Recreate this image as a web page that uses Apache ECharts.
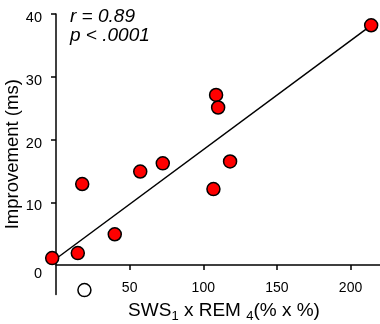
<!DOCTYPE html>
<html>
<head>
<meta charset="utf-8">
<script src="https://cdn.jsdelivr.net/npm/echarts@6/dist/echarts.min.js"></script>
<style>html,body{margin:0;padding:0;background:#fff}#c{width:380px;height:324px}</style>
</head>
<body>
<div id="c"></div>
<script>
// Data
var redPoints = [
  [-2.6, 1.1], [14.8, 1.9], [17.8, 12.9], [39.9, 4.9], [57.2, 14.9],
  [72.5, 16.2], [118.2, 16.5], [106.9, 12.1], [108.7, 27.1], [110.1, 25.1],
  [214, 38.2]
];
var openPoints = [[19.3, -4.0]];
var fitLine = [[0, 1.0], [214, 38.2]];
var xTicks = [50, 100, 150, 200];
var yTicks = [10, 20, 30, 40];
var yLabels = [0, 10, 20, 30, 40];

var FONT = 'Liberation Sans, Arial, Helvetica, sans-serif';
var chart = echarts.init(document.getElementById('c'), null, {renderer: 'canvas'});
chart.setOption({
  animation: false,
  backgroundColor: '#fff',
  grid: {left: 56, right: 0, top: 14, bottom: 29.5, containLabel: false, outerBoundsMode: 'none'},
  xAxis: {
    type: 'value', min: 0, max: 220,
    axisLine: {show: true, onZero: true, lineStyle: {color: '#000', width: 1.5}},
    axisTick: {show: true, customValues: xTicks, length: 5, lineStyle: {color: '#000', width: 1.5}},
    axisLabel: {customValues: xTicks, margin: -13.5, color: '#000', fontSize: 14, fontFamily: FONT},
    splitLine: {show: false},
    name: 'SWS{sub|1} x REM {sub|4}(% x %)',
    nameLocation: 'middle',
    nameGap: 5,
    nameMoveOverlap: false,
    nameTextStyle: {
      color: '#000', fontSize: 19, fontFamily: FONT, padding: [0, 0, 0, 12],
      rich: {sub: {fontSize: 13, fontFamily: FONT, color: '#000', padding: [10, 0, 0, 0], verticalAlign: 'bottom'}}
    }
  },
  yAxis: {
    type: 'value', min: -4.7, max: 40,
    axisLine: {show: true, onZero: true, lineStyle: {color: '#000', width: 1.5}},
    axisTick: {show: true, customValues: yTicks, length: 5, lineStyle: {color: '#000', width: 1.5}},
    axisLabel: {
      customValues: yLabels, margin: 14, color: '#000', fontSize: 14.5, fontFamily: FONT,
      formatter: function (v) { return v === 0 ? '{z|0}' : '{n|' + v + '}'; },
      rich: {
        z: {fontSize: 14.5, fontFamily: FONT, color: '#000', padding: [18, 0, 0, 0]},
        n: {fontSize: 14.5, fontFamily: FONT, color: '#000', padding: [8, 0, 0, 0]}
      }
    },
    splitLine: {show: false},
    name: 'Improvement (ms)',
    nameLocation: 'middle',
    nameGap: 34,
    nameMoveOverlap: false,
    nameTextStyle: {color: '#000', fontSize: 18.5, fontFamily: FONT, padding: [0, 0, 0, 0]}
  },
  graphic: [
    {type: 'text', left: 70, top: 7, style: {text: 'r = 0.89', font: 'italic 19px ' + FONT, fill: '#000'}},
    {type: 'text', left: 70, top: 26, style: {text: 'p < .0001', font: 'italic 19px ' + FONT, fill: '#000'}}
  ],
  series: [
    {type: 'line', data: fitLine, symbol: 'none', z: 1, lineStyle: {color: '#000', width: 1.5}, silent: true},
    {type: 'scatter', data: redPoints, symbol: 'circle', symbolSize: 13, clip: false, z: 3,
      itemStyle: {color: '#ff0000', borderColor: '#000', borderWidth: 1.5, opacity: 1}},
    {type: 'scatter', data: openPoints, symbol: 'circle', symbolSize: 13, clip: false, z: 3,
      itemStyle: {color: '#fff', borderColor: '#000', borderWidth: 1.5, opacity: 1}}
  ]
});
</script>
</body>
</html>
